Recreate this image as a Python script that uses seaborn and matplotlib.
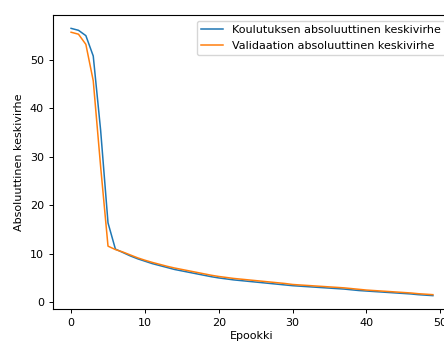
import numpy as np
import pandas as pd
import matplotlib
matplotlib.use("Agg")
import matplotlib.pyplot as plt
import seaborn as sns

# Mean absolute error per epoch
epochs = list(range(50))
train_mae = [
    56.5, 56.1, 55.0, 50.8, 35.5, 16.4, 11.0, 10.3, 9.6, 9.0,
    8.5, 8.0, 7.6, 7.2, 6.8, 6.5, 6.2, 5.9, 5.6, 5.3,
    5.05, 4.85, 4.65, 4.5, 4.35, 4.2, 4.05, 3.9, 3.75, 3.6,
    3.45, 3.35, 3.25, 3.15, 3.05, 2.95, 2.85, 2.75, 2.6, 2.45,
    2.35, 2.25, 2.15, 2.05, 1.95, 1.85, 1.75, 1.6, 1.5, 1.4,
]
val_mae = [
    55.7, 55.3, 53.2, 45.7, 28.0, 11.6, 10.9, 10.4, 9.8, 9.2,
    8.7, 8.25, 7.85, 7.45, 7.1, 6.8, 6.5, 6.2, 5.9, 5.6,
    5.35, 5.15, 4.95, 4.8, 4.65, 4.5, 4.35, 4.2, 4.05, 3.9,
    3.7, 3.6, 3.5, 3.4, 3.3, 3.2, 3.1, 3.0, 2.85, 2.7,
    2.55, 2.45, 2.35, 2.25, 2.15, 2.05, 1.95, 1.8, 1.7, 1.6,
]
labels = ["Koulutuksen absoluuttinen keskivirhe", "Validaation absoluuttinen keskivirhe"]

df = pd.DataFrame({"epoch": epochs, "train": train_mae, "val": val_mae})

plt.rcParams.update({
    "font.size": 8,
    "lines.linewidth": 1.1,
    "axes.linewidth": 0.8,
    "xtick.major.size": 3,
    "ytick.major.size": 3,
    "xtick.major.width": 0.7,
    "ytick.major.width": 0.7,
})

fig = plt.figure(figsize=(4.44, 3.42), dpi=100)
ax = fig.add_axes([53 / 444, 33 / 342, 398 / 444, 294 / 342])

sns.lineplot(data=df, x="epoch", y="train", color="#1f77b4", label=labels[0], ax=ax)
sns.lineplot(data=df, x="epoch", y="val", color="#ff7f0e", label=labels[1], ax=ax)

ax.set_xlabel("Epookki", labelpad=2)
ax.set_ylabel("Absoluuttinen keskivirhe")
ax.set_yticks([0, 10, 20, 30, 40, 50])
ax.set_xticks([0, 10, 20, 30, 40, 50])
ax.legend(loc="upper right")

fig.savefig("out.png", dpi=100)
